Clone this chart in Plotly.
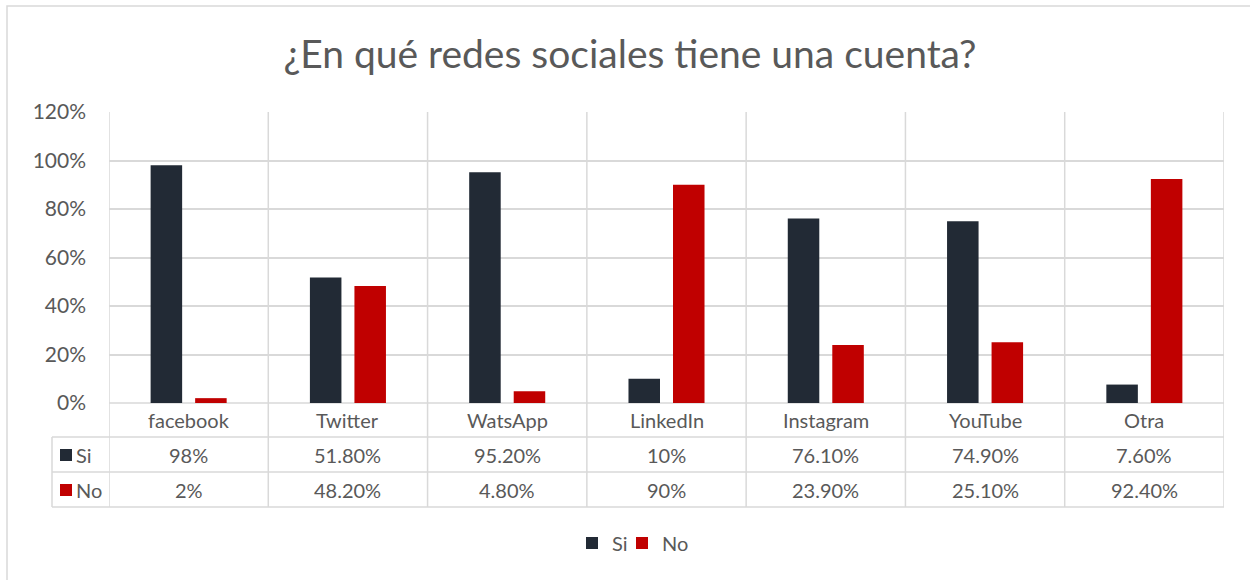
import plotly.graph_objects as go

categories = ["facebook", "Twitter", "WatsApp", "LinkedIn", "Instagram", "YouTube", "Otra"]
si_values = [0.98, 0.518, 0.952, 0.10, 0.761, 0.749, 0.076]
no_values = [0.02, 0.482, 0.048, 0.90, 0.239, 0.251, 0.924]
si_labels = ["98%", "51.80%", "95.20%", "10%", "76.10%", "74.90%", "7.60%"]
no_labels = ["2%", "48.20%", "4.80%", "90%", "23.90%", "25.10%", "92.40%"]
series_names = ["Si", "No"]
y_ticks = [0, 0.2, 0.4, 0.6, 0.8, 1.0, 1.2]

W, H = 1250, 580
SI_COLOR = "#222A35"
NO_COLOR = "#C00000"
GRID = "#D9D9D9"
TXT = "#595959"
FONT = "Lato, Calibri, Carlito, sans-serif"
FS = 20

def px(x):
    return x / W

def py(y):
    return 1 - y / H

plot_l, plot_r = 109, 1224
plot_t, plot_b = 112, 403
row1_b, row2_b, row3_b = 437, 472, 507
tab_l = 52

fig = go.Figure()
fig.add_trace(go.Bar(x=categories, y=si_values, name=series_names[0], legend="legend",
                     marker=dict(color=SI_COLOR, line=dict(width=0))))
fig.add_trace(go.Bar(x=categories, y=no_values, name=series_names[1], legend="legend2",
                     marker=dict(color=NO_COLOR, line=dict(width=0))))

shapes = []
# chart border
shapes.append(dict(type="rect", xref="paper", yref="paper", x0=px(7), x1=px(1262), y0=py(600), y1=py(6),
                   line=dict(color=GRID, width=1.5), fillcolor="rgba(0,0,0,0)", layer="below"))
# vertical category dividers (plot + table)
n = len(categories)
for i in range(n + 1):
    shapes.append(dict(type="line", xref="x", yref="paper", x0=i - 0.5, x1=i - 0.5,
                       y0=py(row3_b), y1=py(plot_t), line=dict(color=GRID, width=1.5), layer="below"))
# table horizontal lines
shapes.append(dict(type="line", xref="paper", yref="paper", x0=px(plot_l), x1=px(plot_r),
                   y0=py(plot_b), y1=py(plot_b), line=dict(color=GRID, width=1.5), layer="below"))
for yy in (row1_b, row2_b, row3_b):
    shapes.append(dict(type="line", xref="paper", yref="paper", x0=px(tab_l), x1=px(plot_r),
                       y0=py(yy), y1=py(yy), line=dict(color=GRID, width=1.5), layer="below"))
shapes.append(dict(type="line", xref="paper", yref="paper", x0=px(tab_l), x1=px(tab_l),
                   y0=py(row3_b), y1=py(row1_b), line=dict(color=GRID, width=1.5), layer="below"))
# table key squares
for (yt, col) in ((449, SI_COLOR), (484, NO_COLOR)):
    shapes.append(dict(type="rect", xref="paper", yref="paper", x0=px(60), x1=px(72),
                       y0=py(yt + 12), y1=py(yt), fillcolor=col, line=dict(width=0)))

annotations = []
for i, c in enumerate(categories):
    annotations.append(dict(x=c, y=py((plot_b + row1_b) / 2), xref="x", yref="paper", text=c,
                            yanchor="middle", xanchor="center",
                            showarrow=False, font=dict(size=FS, color=TXT, family=FONT)))
    annotations.append(dict(x=c, y=py((row1_b + row2_b) / 2), xref="x", yref="paper", text=si_labels[i],
                            yanchor="middle", xanchor="center",
                            showarrow=False, font=dict(size=FS, color=TXT, family=FONT)))
    annotations.append(dict(x=c, y=py((row2_b + row3_b) / 2), xref="x", yref="paper", text=no_labels[i],
                            yanchor="middle", xanchor="center",
                            showarrow=False, font=dict(size=FS, color=TXT, family=FONT)))
for name, yy in zip(series_names, ((row1_b + row2_b) / 2, (row2_b + row3_b) / 2)):
    annotations.append(dict(x=px(74), y=py(yy), xref="paper", yref="paper", text=name,
                            xanchor="left", yanchor="middle",
                            showarrow=False, font=dict(size=FS, color=TXT, family=FONT)))

legend_common = dict(orientation="h", y=py(543), yanchor="middle", xanchor="left",
                     bgcolor="rgba(0,0,0,0)", font=dict(size=FS, color=TXT, family=FONT))

fig.update_layout(
    width=W, height=H,
    margin=dict(l=0, r=0, t=0, b=0, pad=0, autoexpand=False),
    paper_bgcolor="white", plot_bgcolor="white",
    font=dict(family=FONT, color=TXT),
    title=dict(text="¿En qué redes sociales tiene una cuenta?", x=0.504, xanchor="center",
               y=py(54), yanchor="middle", font=dict(size=39, color=TXT, family=FONT)),
    barmode="group", bargap=0.441, bargroupgap=0.292,
    xaxis=dict(domain=[px(plot_l), px(plot_r)], showticklabels=False, showgrid=False,
               zeroline=False, showline=False, range=[-0.5, n - 0.5]),
    yaxis=dict(domain=[py(plot_b), py(plot_t)], range=[0, 1.2], tickvals=y_ticks, tickformat=".0%",
               showgrid=True, gridcolor=GRID, gridwidth=1.5, zeroline=False, showline=False,
               ticklabelstandoff=22, tickfont=dict(size=21, color=TXT, family=FONT)),
    showlegend=True,
    legend=dict(x=px(586 - 14), **legend_common),
    legend2=dict(x=px(636 - 14), **legend_common),
    shapes=shapes, annotations=annotations,
)

fig.write_html("out.html", config={"displayModeBar": False},
               post_script="document.body.style.margin='0';")
